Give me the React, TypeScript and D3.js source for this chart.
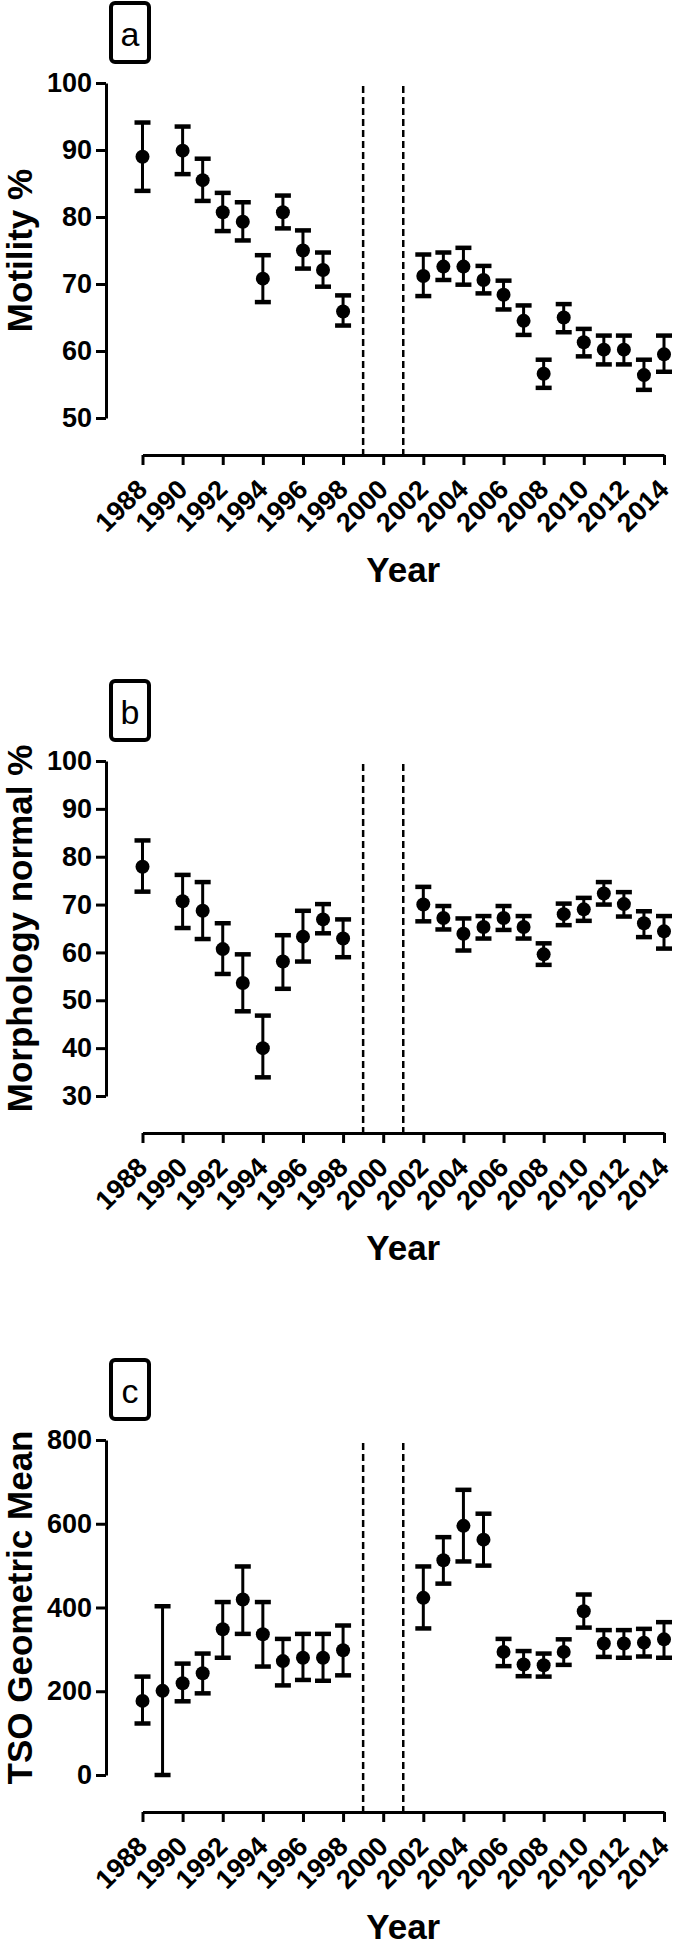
import { useEffect, useRef } from 'react'
import * as d3 from 'd3'

const yearTicks = [1988, 1990, 1992, 1994, 1996, 1998, 2000, 2002, 2004, 2006, 2008, 2010, 2012, 2014]
const dashedYears = [1999, 2001]

// panel a – motility %
const motYears = [1988, 1990, 1991, 1992, 1993, 1994, 1995, 1996, 1997, 1998, 2002, 2003, 2004, 2005, 2006, 2007, 2008, 2009, 2010, 2011, 2012, 2013, 2014]
const motMean = [89.0, 89.9, 85.5, 80.7, 79.3, 70.8, 80.7, 75.0, 72.1, 65.9, 71.2, 72.6, 72.6, 70.6, 68.4, 64.5, 56.6, 65.0, 61.3, 60.2, 60.2, 56.4, 59.5]
const motLow = [83.9, 86.4, 82.4, 77.9, 76.5, 67.3, 78.3, 72.3, 69.6, 63.8, 68.2, 70.6, 69.9, 68.6, 66.2, 62.4, 54.5, 62.8, 59.2, 58.0, 58.0, 54.2, 56.9]
const motHigh = [94.1, 93.5, 88.7, 83.6, 82.2, 74.3, 83.2, 78.0, 74.7, 68.3, 74.4, 74.7, 75.4, 72.7, 70.5, 66.8, 58.7, 67.0, 63.3, 62.3, 62.3, 58.7, 62.3]
const motTicks = [50, 60, 70, 80, 90, 100]

// panel b – morphology normal %
const morYears = [1988, 1990, 1991, 1992, 1993, 1994, 1995, 1996, 1997, 1998, 2002, 2003, 2004, 2005, 2006, 2007, 2008, 2009, 2010, 2011, 2012, 2013, 2014]
const morMean = [77.9, 70.7, 68.7, 60.7, 53.6, 40.0, 58.1, 63.3, 66.9, 62.9, 70.0, 67.2, 63.9, 65.3, 67.2, 65.3, 59.6, 68.0, 69.0, 72.3, 70.1, 66.1, 64.4]
const morLow = [72.7, 65.1, 62.8, 55.5, 47.7, 33.9, 52.4, 58.1, 64.0, 59.0, 66.5, 64.8, 60.4, 62.9, 64.7, 62.9, 57.4, 65.7, 66.6, 70.0, 67.5, 63.2, 60.8]
const morHigh = [83.4, 76.2, 74.7, 66.1, 59.6, 46.8, 63.6, 68.7, 70.1, 66.9, 73.7, 69.7, 67.1, 67.6, 69.7, 67.6, 61.9, 70.2, 71.4, 74.7, 72.6, 68.6, 67.6]
const morTicks = [30, 40, 50, 60, 70, 80, 90, 100]

// panel c – TSO geometric mean
const tsoYears = [1988, 1989, 1990, 1991, 1992, 1993, 1994, 1995, 1996, 1997, 1998, 2002, 2003, 2004, 2005, 2006, 2007, 2008, 2009, 2010, 2011, 2012, 2013, 2014]
const tsoMean = [177, 201, 219, 243, 348, 419, 336, 272, 280, 280, 298, 423, 513, 595, 562, 294, 264, 262, 294, 391, 314, 314, 316, 324]
const tsoLow = [123, 0, 176, 195, 280, 337, 259, 214, 227, 225, 238, 350, 457, 510, 500, 260, 236, 235, 263, 352, 282, 280, 283, 280]
const tsoHigh = [235, 403, 266, 290, 413, 498, 413, 325, 337, 337, 357, 498, 568, 681, 624, 325, 296, 290, 324, 431, 346, 346, 349, 365]
const tsoTicks = [0, 200, 400, 600, 800]

const FONT = "'Liberation Sans', Arial, sans-serif"

type PanelDef = {
  letter: string
  title: string
  top: number
  years: number[]
  mean: number[]
  low: number[]
  high: number[]
  ticks: number[]
}

const panels: PanelDef[] = [
  { letter: 'a', title: 'Motility %', top: 83, years: motYears, mean: motMean, low: motLow, high: motHigh, ticks: motTicks },
  { letter: 'b', title: 'Morphology normal %', top: 761, years: morYears, mean: morMean, low: morLow, high: morHigh, ticks: morTicks },
  { letter: 'c', title: 'TSO Geometric Mean', top: 1440, years: tsoYears, mean: tsoMean, low: tsoLow, high: tsoHigh, ticks: tsoTicks },
]

export default function App() {
  const ref = useRef<SVGSVGElement>(null)

  useEffect(() => {
    const el = ref.current
    if (!el) return
    const svg = d3.select(el)
    svg.selectAll('*').remove()

    const axisX = 106
    const plotH = 335
    const x = d3.scaleLinear().domain([1988, 2014]).range([142.5, 664])

    panels.forEach((p) => {
      const yMin = p.ticks[0]
      const yMax = p.ticks[p.ticks.length - 1]
      const y = d3.scaleLinear().domain([yMin, yMax]).range([p.top + plotH, p.top])
      const baseY = p.top + plotH + 37
      const g = svg.append('g')

      // letter box
      g.append('rect')
        .attr('x', 111)
        .attr('y', p.top - 80)
        .attr('width', 38)
        .attr('height', 59)
        .attr('rx', 4)
        .attr('fill', 'none')
        .attr('stroke', '#000')
        .attr('stroke-width', 4)
      g.append('text')
        .attr('x', 130)
        .attr('y', p.top - 37)
        .attr('text-anchor', 'middle')
        .attr('font-family', FONT)
        .attr('font-size', 34)
        .text(p.letter)

      // y axis
      const ya = g.append('g')
        .attr('transform', `translate(${axisX},0)`)
        .call(d3.axisLeft(y).tickValues(p.ticks).tickSize(10).tickSizeOuter(0).tickPadding(4).tickFormat(d3.format('d')))
      ya.selectAll('text')
        .attr('font-family', FONT)
        .attr('font-weight', 'bold')
        .attr('font-size', 27)
        .attr('fill', '#000')
      ya.selectAll('.domain, .tick line').attr('stroke', '#000').attr('stroke-width', 3)

      // x axis
      const xa = g.append('g')
        .attr('transform', `translate(0,${baseY})`)
        .call(d3.axisBottom(x).tickValues(yearTicks).tickSize(10).tickSizeOuter(0).tickFormat(d3.format('d')))
      xa.selectAll('.domain, .tick line').attr('stroke', '#000').attr('stroke-width', 3)
      xa.selectAll('text')
        .attr('x', 0)
        .attr('y', 0)
        .attr('dy', 0)
        .attr('text-anchor', 'end')
        .attr('transform', 'translate(6,36) rotate(-45)')
        .attr('font-family', FONT)
        .attr('font-weight', 'bold')
        .attr('font-size', 27)
        .attr('fill', '#000')

      // axis titles
      g.append('text')
        .attr('x', (x(1988) + x(2014)) / 2)
        .attr('y', baseY + 127)
        .attr('text-anchor', 'middle')
        .attr('font-family', FONT)
        .attr('font-weight', 'bold')
        .attr('font-size', 35)
        .text('Year')
      g.append('text')
        .attr('transform', `translate(32,${p.top + plotH / 2}) rotate(-90)`)
        .attr('text-anchor', 'middle')
        .attr('font-family', FONT)
        .attr('font-weight', 'bold')
        .attr('font-size', 35)
        .text(p.title)

      // dashed separators
      g.selectAll('line.sep')
        .data(dashedYears)
        .join('line')
        .attr('class', 'sep')
        .attr('x1', (d) => x(d))
        .attr('x2', (d) => x(d))
        .attr('y1', p.top + 3)
        .attr('y2', baseY)
        .attr('stroke', '#000')
        .attr('stroke-width', 2.5)
        .attr('stroke-dasharray', '7,4')

      const rows = p.years.map((yr, i) => ({ yr, m: p.mean[i], lo: p.low[i], hi: p.high[i] }))

      g.selectAll('line.bar')
        .data(rows)
        .join('line')
        .attr('class', 'bar')
        .attr('x1', (d) => x(d.yr))
        .attr('x2', (d) => x(d.yr))
        .attr('y1', (d) => y(d.lo))
        .attr('y2', (d) => y(d.hi))
        .attr('stroke', '#000')
        .attr('stroke-width', 3)

      ;['lo', 'hi'].forEach((k) => {
        g.selectAll(`line.cap-${k}`)
          .data(rows)
          .join('line')
          .attr('class', `cap-${k}`)
          .attr('x1', (d) => x(d.yr) - 8)
          .attr('x2', (d) => x(d.yr) + 8)
          .attr('y1', (d) => y(d[k as 'lo' | 'hi']))
          .attr('y2', (d) => y(d[k as 'lo' | 'hi']))
          .attr('stroke', '#000')
          .attr('stroke-width', 4.5)
      })

      g.selectAll('circle.pt')
        .data(rows)
        .join('circle')
        .attr('class', 'pt')
        .attr('cx', (d) => x(d.yr))
        .attr('cy', (d) => y(d.m))
        .attr('r', 7)
        .attr('fill', '#000')
    })
  }, [])

  return (
    <svg
      ref={ref}
      width={675}
      height={1953}
      style={{ position: 'absolute', left: 0, top: 0, background: '#fff' }}
    />
  )
}
